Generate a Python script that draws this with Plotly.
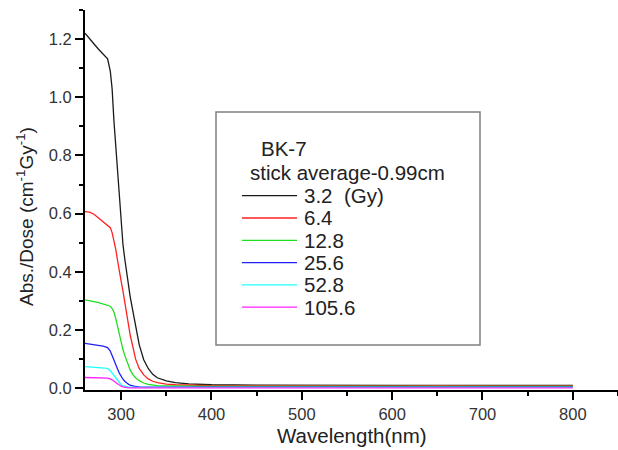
import plotly.graph_objects as go

# Wavelength grid (nm)
wavelength = [260, 265, 270, 275, 280, 285, 288, 290, 292, 294, 296, 298, 300, 302, 304,
              306, 308, 310, 313, 316, 320, 325, 330, 335, 340, 350, 360, 375, 400, 450,
              500, 550, 600, 650, 700, 750, 800]

# Absorbance per dose (cm^-1 Gy^-1) for each dose
abs_3_2 = [1.220, 1.200, 1.183, 1.165, 1.150, 1.132, 1.090, 1.030, 0.920, 0.830, 0.745, 0.650,
           0.560, 0.495, 0.445, 0.400, 0.358, 0.315, 0.265, 0.215, 0.150, 0.098, 0.068, 0.048,
           0.036, 0.025, 0.019, 0.015, 0.012, 0.011, 0.010, 0.011, 0.010, 0.010, 0.011, 0.010, 0.010]
abs_6_4 = [0.607, 0.605, 0.598, 0.585, 0.572, 0.562, 0.552, 0.535, 0.510, 0.478, 0.440, 0.395,
           0.368, 0.335, 0.295, 0.252, 0.215, 0.183, 0.142, 0.100, 0.068, 0.046, 0.032, 0.024,
           0.019, 0.014, 0.012, 0.010, 0.009, 0.009, 0.008, 0.009, 0.008, 0.009, 0.008, 0.009, 0.008]
abs_12_8 = [0.304, 0.302, 0.298, 0.294, 0.290, 0.287, 0.282, 0.274, 0.262, 0.240, 0.213, 0.183,
            0.155, 0.133, 0.113, 0.094, 0.078, 0.063, 0.047, 0.036, 0.026, 0.018, 0.013, 0.010,
            0.009, 0.008, 0.007, 0.007, 0.006, 0.006, 0.006, 0.006, 0.006, 0.006, 0.006, 0.006, 0.006]
abs_25_6 = [0.154, 0.152, 0.151, 0.148, 0.145, 0.140, 0.128, 0.113, 0.095, 0.080, 0.066, 0.052,
            0.040, 0.031, 0.024, 0.018, 0.014, 0.011, 0.008, 0.006, 0.005, 0.004, 0.004, 0.004,
            0.004, 0.004, 0.004, 0.004, 0.004, 0.004, 0.004, 0.004, 0.004, 0.004, 0.004, 0.004, 0.004]
abs_52_8 = [0.074, 0.073, 0.072, 0.071, 0.070, 0.068, 0.060, 0.052, 0.042, 0.032, 0.024, 0.018,
            0.012, 0.009, 0.007, 0.005, 0.004, 0.004, 0.003, 0.003, 0.003, 0.003, 0.003, 0.003,
            0.003, 0.003, 0.003, 0.003, 0.003, 0.003, 0.003, 0.003, 0.003, 0.003, 0.003, 0.003, 0.003]
abs_105_6 = [0.037, 0.037, 0.036, 0.036, 0.035, 0.035, 0.032, 0.029, 0.025, 0.020, 0.015, 0.010,
             0.007, 0.005, 0.003, 0.002, 0.001, 0.001, 0.001, 0.001, 0.001, 0.001, 0.001, 0.001,
             0.001, 0.001, 0.001, 0.001, 0.001, 0.001, 0.001, 0.001, 0.001, 0.001, 0.001, 0.001, 0.001]

dose_labels = ["3.2  (Gy)", "6.4", "12.8", "25.6", "52.8", "105.6"]
series = [abs_3_2, abs_6_4, abs_12_8, abs_25_6, abs_52_8, abs_105_6]
colors = ["#1a1a1a", "#ff2020", "#20dd20", "#2020ff", "#20ffff", "#ff20ff"]

x_ticks = [300, 400, 500, 600, 700, 800]
y_ticks = [0.0, 0.2, 0.4, 0.6, 0.8, 1.0, 1.2]
y_tick_text = ["0.0", "0.2", "0.4", "0.6", "0.8", "1.0", "1.2"]

legend_title = ["BK-7", "stick average-0.99cm"]

W, H = 618, 450
ML, MR, MT, MB = 85, 0, 10, 60
FONT = "Liberation Sans, Arial, sans-serif"


def px_x(px):
    return (px - ML) / (W - ML - MR)


def px_y(py):
    return (H - MB - py) / (H - MT - MB)


fig = go.Figure()
for vals, name, col in zip(series, dose_labels, colors):
    fig.add_trace(go.Scatter(x=wavelength, y=vals, mode="lines", name=name,
                             line=dict(color=col, width=1.3), showlegend=False))

axis_common = dict(showline=True, linecolor="black", linewidth=2, ticks="outside",
                   ticklen=8, tickwidth=1.5, tickcolor="black", showgrid=False,
                   zeroline=False, tickfont=dict(family=FONT, size=16.5, color="#333333"))

fig.update_xaxes(range=[260, 850], tickvals=x_ticks,
                 minor=dict(dtick=50, tick0=0, ticks="outside", ticklen=4, tickwidth=1.5,
                            tickcolor="black", showgrid=False),
                 **axis_common)
fig.update_yaxes(range=[-0.006, 1.3], tickvals=y_ticks, ticktext=y_tick_text,
                 minor=dict(dtick=0.1, tick0=0, ticks="outside", ticklen=4, tickwidth=1.5,
                            tickcolor="black", showgrid=False),
                 **axis_common)

annotations = [
    dict(text="Abs./Dose (cm<sup>-1</sup>Gy<sup>-1</sup>)", textangle=-90,
         x=px_x(25), y=px_y(217), xref="paper", yref="paper", showarrow=False,
         xanchor="center", yanchor="middle", font=dict(family=FONT, size=19, color="#222222")),
    dict(text="Wavelength(nm)", x=px_x(352), y=px_y(435), xref="paper", yref="paper",
         showarrow=False, xanchor="center", yanchor="middle",
         font=dict(family=FONT, size=20.5, color="#222222")),
]

# Legend frame
shapes = [dict(type="rect", xref="paper", yref="paper",
               x0=px_x(216), x1=px_x(480), y0=px_y(345), y1=px_y(112),
               line=dict(color="#808080", width=1.5), fillcolor="white", layer="above")]

# Legend heading lines
for text, left, cy in zip(legend_title, [259, 248], [148, 172]):
    annotations.append(dict(text=text, x=px_x(left), y=px_y(cy), xref="paper", yref="paper",
                            showarrow=False, xanchor="left", yanchor="middle",
                            font=dict(family=FONT, size=20.5, color="#222222")))

# Legend entries
row0, step = 195.7, 22.3
for i, (name, col) in enumerate(zip(dose_labels, colors)):
    cy = row0 + i * step
    shapes.append(dict(type="line", xref="paper", yref="paper",
                       x0=px_x(242), x1=px_x(297), y0=px_y(cy), y1=px_y(cy),
                       line=dict(color=col, width=1.3), layer="above"))
    annotations.append(dict(text=name, x=px_x(302), y=px_y(cy), xref="paper", yref="paper",
                            showarrow=False, xanchor="left", yanchor="middle",
                            font=dict(family=FONT, size=20.5, color="#222222")))

fig.update_layout(width=W, height=H, margin=dict(l=ML, r=MR, t=MT, b=MB),
                  paper_bgcolor="white", plot_bgcolor="white",
                  shapes=shapes, annotations=annotations, showlegend=False)

fig.write_html("out.html")
